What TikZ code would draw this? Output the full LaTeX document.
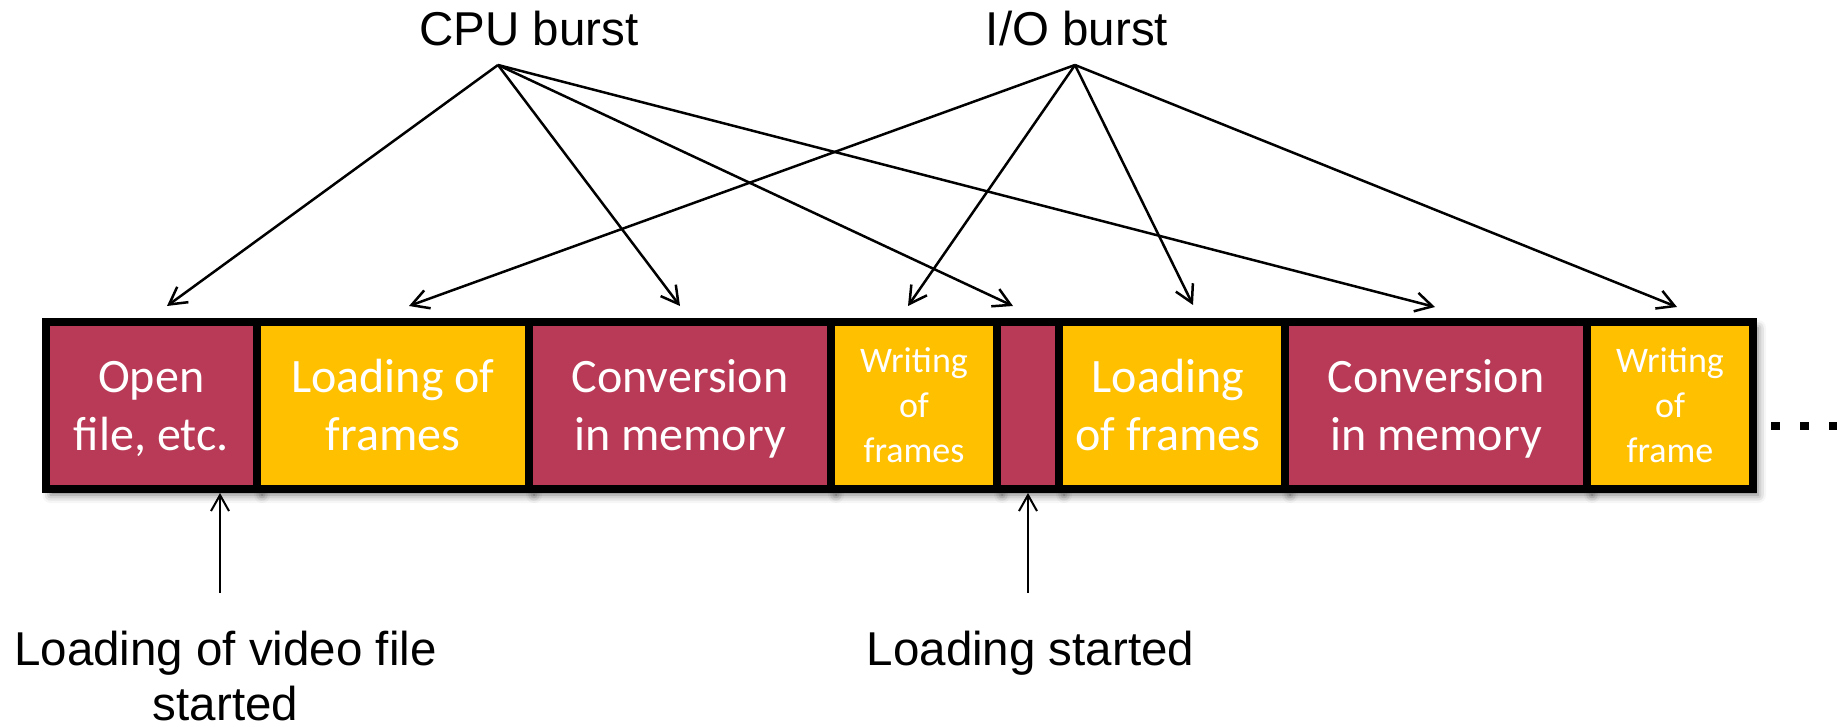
\documentclass[tikz,border=0pt]{standalone}
\usepackage{fontspec}
\setmainfont{Liberation Sans}
\newfontfamily\cellfont{Carlito}
\usetikzlibrary{arrows.meta,shadows.blur}
\definecolor{cpured}{HTML}{B93A56}
\definecolor{iogold}{HTML}{FFC000}

\begin{document}
\begin{tikzpicture}[x=0.5pt,y=-0.5pt,
  cellbox/.style={draw=black, line width=4pt, minimum height=83.5pt, inner sep=0pt,
    blur shadow={shadow xshift=2.5pt, shadow yshift=-3pt,
                 shadow blur radius=4pt, shadow opacity=55}},
  cpubox/.style={cellbox, fill=cpured},
  iobox/.style={cellbox, fill=iogold},
  celltext/.style={text=white, align=center, inner sep=0pt,
    font=\cellfont\fontsize{24}{28.5}\selectfont},
  smalltext/.style={text=white, align=center, inner sep=0pt,
    font=\cellfont\fontsize{18}{22.5}\selectfont},
  note/.style={align=center, inner sep=0pt, anchor=north,
    font=\fontsize{23.75}{27.5}\selectfont},
  burstarrow/.style={line width=1.25pt, -{Straight Barb[length=8.5pt,width=9.5pt]}},
  startarrow/.style={line width=1pt, -{Straight Barb[length=8pt,width=9pt]}},
]
\useasboundingbox (0,0) rectangle (1837,727);

% timeline of bursts
\node[cpubox, minimum width=105.75pt] (c1) at (151.25,405.5) {};
\node[iobox,  minimum width=136pt]    (c2) at (393,405.5) {};
\node[cpubox, minimum width=151pt]    (c3) at (680,405.5) {};
\node[iobox,  minimum width=83pt]     (c4) at (914,405.5) {};
\node[cpubox, minimum width=31pt]     (c5) at (1028,405.5) {};
\node[iobox,  minimum width=113pt]    (c6) at (1172,405.5) {};
\node[cpubox, minimum width=151pt]    (c7) at (1436,405.5) {};
\node[iobox,  minimum width=83pt]     (c8) at (1670,405.5) {};

% texts inside the bursts
\node[celltext]  (t1) at (151.25,410.1) {\strut Open\\\strut file, etc.};
\node[celltext]  (t2) at (393,410.1)    {\strut Loading of\\\strut frames};
\node[celltext]  (t3) at (680,410.1)    {\strut Conversion\\\strut in memory};
\node[smalltext] (t4) at (914,408)      {\strut Writing\\\strut of\\\strut frames};
\node[celltext]  (t6) at (1168,410.1)   {\strut Loading\\\strut of frames};
\node[celltext]  (t7) at (1436,410.1)   {\strut Conversion\\\strut in memory};
\node[smalltext] (t8) at (1670,408)     {\strut Writing\\\strut of\\\strut frame};

% continuation dots
\fill (1771,422) rectangle (1780,430);
\fill (1800,422) rectangle (1809,430);
\fill (1829,422) rectangle (1838,430);

% burst captions
\node[note] (cpu) at (529,6.5)  {\strut CPU burst};
\node[note] (io)  at (1077,6.5) {\strut I/O burst};

\coordinate (cpuapex) at (498,65);
\coordinate (ioapex)  at (1075,65);

\coordinate (a1) at (167,306);
\coordinate (a3) at (680,306);
\coordinate (a5) at (1013,306);
\coordinate (a7) at (1435,307);
\coordinate (a2) at (409,306);
\coordinate (a4) at (908,306);
\coordinate (a6) at (1193,305);
\coordinate (a8) at (1677,307);

\foreach \t in {a1,a3,a5,a7} \draw[burstarrow] (cpuapex) -- (\t);
\foreach \t in {a2,a4,a6,a8} \draw[burstarrow] (ioapex) -- (\t);

% start markers below the timeline
\node[note] (vstart) at (225.5,626.5) {\strut Loading of video file\\\strut started};
\node[note] (lstart) at (1030.5,626.5) {\strut Loading started};

\coordinate (s1) at (220,593);
\coordinate (s2) at (1028,593);
\draw[startarrow] (s1) -- (s1 |- c1.south);
\draw[startarrow] (s2) -- (s2 |- c5.south);
\end{tikzpicture}
\end{document}
